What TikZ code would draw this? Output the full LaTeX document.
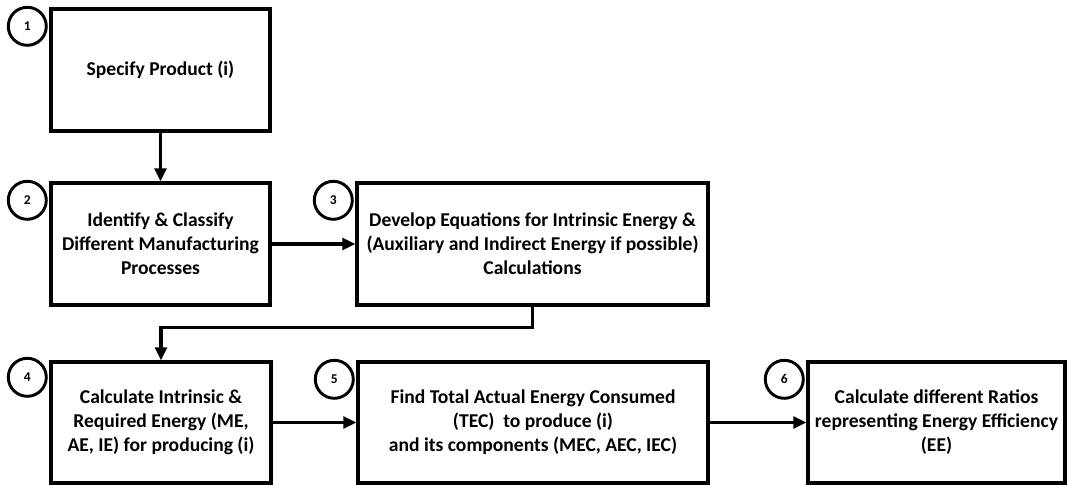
\documentclass[tikz,border=0pt]{standalone}
\usepackage{fontspec}
\setmainfont{Carlito}
\usetikzlibrary{arrows.meta}

\begin{document}
\begin{tikzpicture}[x=0.03cm,y=-0.03cm,
  stage/.style={draw,line width=2.9pt,align=center,inner sep=0pt,
    font=\fontsize{16.7}{20.5}\selectfont\bfseries},
  num/.style={draw,circle,line width=2.5pt,minimum size=1.14cm,inner sep=0pt,
    font=\fontsize{11.5}{11.5}\selectfont\bfseries},
  flow/.style={line width=2.6pt,-{Triangle[length=11pt,width=10pt]}}]
\useasboundingbox (0,0) rectangle (1068,485);

\node[stage,minimum width=6.57cm,minimum height=3.66cm] (b1) at (160.5,70) {Specify Product (i)};
\node[stage,minimum width=6.57cm,minimum height=3.66cm] (b2) at (160.5,244) {Identify \& Classify\\Different Manufacturing\\Processes};
\node[stage,minimum width=10.53cm,minimum height=3.66cm] (b3) at (532.5,244) {Develop Equations for Intrinsic Energy \&\\(Auxiliary and Indirect Energy if possible)\\Calculations};
\node[stage,minimum width=6.6cm,minimum height=3.63cm] (b4) at (161,422.5) {Calculate Intrinsic \&\\Required Energy (ME,\\AE, IE) for producing (i)};
\node[stage,minimum width=10.5cm,minimum height=3.63cm] (b5) at (533,422.5) {Find Total Actual Energy Consumed\\(TEC)\ \ to produce (i)\\and its components (MEC, AEC, IEC)};
\node[stage,minimum width=7.71cm,minimum height=3.63cm] (b6) at (936.5,422.5) {Calculate different Ratios\\representing Energy Efficiency\\(EE)};

% step numbers
\node[num] (n1) at ([shift={(-22,19)}]b1.north west) {1};
\node[num] (n2) at ([shift={(-22,19)}]b2.north west) {2};
\node[num] (n3) at ([shift={(-22,19)}]b3.north west) {3};
\node[num] (n4) at ([shift={(-22,17)}]b4.north west) {4};
\node[num] (n5) at ([shift={(-22,19)}]b5.north west) {5};
\node[num] (n6) at ([shift={(-22,19)}]b6.north west) {6};

\draw[flow] (b1) -- (b2);
\draw[flow] (b2) -- (b3);
\draw[flow] (b3.south) -- ++(0,21) -| (b4.north);
\draw[flow] (b4) -- (b5);
\draw[flow] (b5) -- (b6);
\end{tikzpicture}
\end{document}
